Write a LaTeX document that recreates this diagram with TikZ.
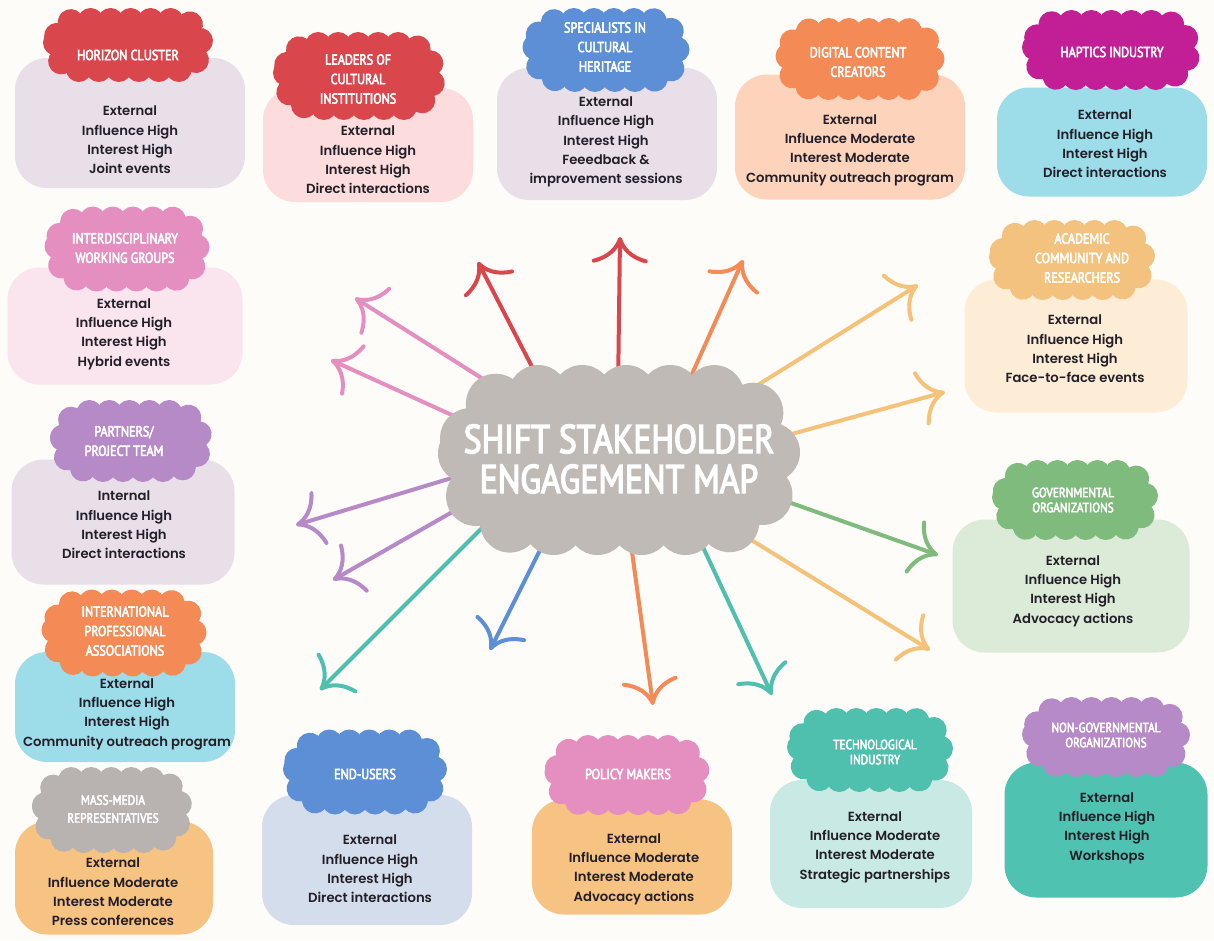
\documentclass[tikz,border=0pt]{standalone}
\usepackage{fontspec}
\usetikzlibrary{arrows.meta,decorations.markings}
\newfontfamily\bodyfont{Poppins SemiBold}
\newfontfamily\hdrfont{PT Sans}[FakeStretch=0.84,FakeBold=3.5]

% palette
\definecolor{paper}{HTML}{FDFCF9}
\definecolor{ink}{HTML}{231F28}
\definecolor{cred}{HTML}{D9474D}
\definecolor{cblue}{HTML}{5D8FD6}
\definecolor{corange}{HTML}{F48A55}
\definecolor{cmagenta}{HTML}{C21F96}
\definecolor{cpink}{HTML}{E58EC0}
\definecolor{capricot}{HTML}{F3C27E}
\definecolor{cpurple}{HTML}{B68AC6}
\definecolor{cgreen}{HTML}{80BB7E}
\definecolor{cteal}{HTML}{4FBFAE}
\definecolor{cgrey}{HTML}{B8B2B0}
\definecolor{hubgrey}{HTML}{C0BAB7}
\definecolor{carrowyel}{HTML}{F5C27A}
% card fills
\definecolor{flilac}{HTML}{E9DFE9}
\definecolor{frose}{HTML}{FCDCDC}
\definecolor{fpeach}{HTML}{FDD3BB}
\definecolor{fsky}{HTML}{9CDDE9}
\definecolor{fblush}{HTML}{FAE4ED}
\definecolor{fcream}{HTML}{FDECD6}
\definecolor{fsage}{HTML}{DCEBD8}
\definecolor{famber}{HTML}{F7C382}
\definecolor{fmist}{HTML}{D4DDEB}
\definecolor{fmint}{HTML}{C9EAE4}
\definecolor{fteal}{HTML}{4FC2B1}

% scalloped cloud: centre x, centre y, width, height, bump radius, bump spacing, colour
\newcommand\puffs[7]{%
  \pgfmathsetmacro\pfR{0.45*(#4-2*#5)}%
  \path[fill=#7, rounded corners=\pfR pt,
    postaction={decorate, decoration={markings,
      mark=between positions 0 and 1 step #6pt with {\fill[#7] (0,0) circle[radius=#5pt];}}}]
    (#1-#3/2+#5,#2-#4/2+#5) rectangle (#1+#3/2-#5,#2+#4/2-#5);
}

\tikzset{
  card/.style={rounded corners=32pt, inner sep=0pt, draw=none},
  hdr/.style={text=white, font=\hdrfont\fontsize{14.5}{19.5}\selectfont, align=center, inner sep=0pt},
  hdrtight/.style={hdr, font=\hdrfont\fontsize{13.5}{15}\selectfont},
  body/.style={text=ink, font=\bodyfont\fontsize{13.2}{19.3}\selectfont, align=center, inner sep=0pt},
  hubtitle/.style={text=white, font=\hdrfont\fontsize{40}{40}\selectfont, align=center, inner sep=0pt},
  arr/.style={line width=4pt, line cap=round,
    -{Computer Modern Rightarrow[length=26pt,width=56pt,line width=4pt]}},
}

\begin{document}
\begin{tikzpicture}[x=1pt,y=-1pt]
\fill[paper] (0,0) rectangle (1214,940);
\useasboundingbox (0,0) rectangle (1214,940);

% ---- radiating arrows (drawn under the central cloud)
\foreach \n/\sx/\sy/\tx/\ty/\c in {
  1/545/392/478/262/cred,
  2/618/392/620/237/cred,
  3/684/392/743/260/corange,
  4/745/393/918/285/carrowyel,
  5/777/438/945/392/carrowyel,
  6/777/498/938/555/cgreen,
  7/740/533/930/650/carrowyel,
  8/695/530/772/695/cteal,
  9/629/530/653/705/corange,
  10/550/530/490/650/cblue,
  11/495/515/320/690/cteal,
  12/475/499/333/580/cpurple,
  13/465/474/296/525/cpurple,
  14/465/421/331/360/cpink,
  15/502/391/355/298/cpink}{
  \coordinate (s\n) at (\sx,\sy);
  \coordinate (t\n) at (\tx,\ty);
  \draw[arr,\c] (s\n) -- (t\n);
}

% ---- central cloud
\puffs{619}{460}{362}{190}{30}{44}{hubgrey}
\node[hubtitle] (hub) at (619,459) {SHIFT STAKEHOLDER\\ENGAGEMENT MAP};

% ---- stakeholder cards
% Horizon cluster
\node[card, fill=flilac, minimum width=230, minimum height=130] (hcCard) at (130,123) {};
\puffs{128}{45}{170}{74}{13}{20}{cred}
\node[hdr] (hcHead) at (128,55) {HORIZON CLUSTER};
\node[body] (hcBody) at (130,140) {External\\Influence High\\Interest High\\Joint events};

% Leaders of cultural institutions
\node[card, fill=frose, minimum width=210, minimum height=114] (lciCard) at (368,145) {};
\puffs{359}{76}{172}{88}{13}{20}{cred}
\node[hdr] (lciHead) at (358,79) {LEADERS OF\\CULTURAL\\INSTITUTIONS};
\node[body] (lciBody) at (368,160) {External\\Influence High\\Interest High\\Direct interactions};

% Specialists in cultural heritage
\node[card, fill=flilac, minimum width=220, minimum height=132] (schCard) at (607,134) {};
\puffs{606}{50}{167}{84}{13}{20}{cblue}
\node[hdr] (schHead) at (605,47) {SPECIALISTS IN\\CULTURAL\\HERITAGE};
\node[body] (schBody) at (606,142) {External\\Influence High\\Interest High\\Feeedback \&\\improvement sessions};

% Digital content creators
\node[card, fill=fpeach, minimum width=230, minimum height=125] (dccCard) at (850,137) {};
\puffs{860}{59}{169}{82}{13}{20}{corange}
\node[hdr] (dccHead) at (858,62) {DIGITAL CONTENT\\CREATORS};
\node[body] (dccBody) at (850,150) {External\\Influence Moderate\\Interest Moderate\\Community outreach program};

% Haptics industry
\node[card, fill=fsky, minimum width=210, minimum height=109] (hiCard) at (1102,142) {};
\puffs{1111}{50}{178}{80}{13}{20}{cmagenta}
\node[hdr] (hiHead) at (1112,52) {HAPTICS INDUSTRY};
\node[body] (hiBody) at (1105,144) {External\\Influence High\\Interest High\\Direct interactions};

% Interdisciplinary working groups
\node[card, fill=fblush, minimum width=235, minimum height=117] (iwgCard) at (125,326) {};
\puffs{127}{249}{165}{85}{13}{20}{cpink}
\node[hdr] (iwgHead) at (125,248) {INTERDISCIPLINARY\\WORKING GROUPS};
\node[body] (iwgBody) at (124,334) {External\\Influence High\\Interest High\\Hybrid events};

% Academic community and researchers
\node[card, fill=fcream, minimum width=223, minimum height=133] (acrCard) at (1076,346) {};
\puffs{1072}{260}{166}{80}{13}{20}{capricot}
\node[hdr] (acrHead) at (1082,258) {ACADEMIC\\COMMUNITY AND\\RESEARCHERS};
\node[body] (acrBody) at (1075,349) {External\\Influence High\\Interest High\\Face-to-face events};

% Partners / project team
\node[card, fill=flilac, minimum width=223, minimum height=125] (pptCard) at (123,522) {};
\puffs{131}{441}{162}{82}{13}{20}{cpurple}
\node[hdr] (pptHead) at (124,441) {PARTNERS/\\PROJECT TEAM};
\node[body] (pptBody) at (124,525) {Internal\\Influence High\\Interest High\\Direct interactions};

% Governmental organizations
\node[card, fill=fsage, minimum width=237, minimum height=133] (goCard) at (1071,586) {};
\puffs{1075}{500}{166}{80}{13}{20}{cgreen}
\node[hdrtight] (goHead) at (1073,500) {GOVERNMENTAL\\ORGANIZATIONS};
\node[body] (goBody) at (1073,591) {External\\Influence High\\Interest High\\Advocacy actions};

% International professional associations
\node[card, fill=fsky, minimum width=220, minimum height=110] (ipaCard) at (125,707) {};
\puffs{124}{633}{165}{87}{13}{20}{corange}
\node[hdr] (ipaHead) at (125,631) {INTERNATIONAL\\PROFESSIONAL\\ASSOCIATIONS};
\node[body] (ipaBody) at (127,714) {External\\Influence High\\Interest High\\Community outreach program};

% Mass-media representatives
\node[card, fill=famber, minimum width=198, minimum height=113] (mmrCard) at (114,878) {};
\puffs{112}{810}{160}{86}{13}{20}{cgrey}
\node[hdrtight, font=\hdrfont\fontsize{13.5}{18}\selectfont] (mmrHead) at (113,809) {MASS-MEDIA\\REPRESENTATIVES};
\node[body] (mmrBody) at (113,892) {External\\Influence Moderate\\Interest Moderate\\Press conferences};

% End-users
\node[card, fill=fmist, minimum width=210, minimum height=130] (euCard) at (367,860) {};
\puffs{365}{772}{164}{85}{13}{20}{cblue}
\node[hdr] (euHead) at (365,774) {END-USERS};
\node[body] (euBody) at (370,869) {External\\Influence High\\Interest High\\Direct interactions};

% Policy makers
\node[card, fill=famber, minimum width=200, minimum height=115] (pmCard) at (632,857) {};
\puffs{627}{775}{165}{80}{13}{20}{cpink}
\node[hdr] (pmHead) at (628,774) {POLICY MAKERS};
\node[body] (pmBody) at (634,869) {External\\Influence Moderate\\Interest Moderate\\Advocacy actions};

% Technological industry
\node[card, fill=fmint, minimum width=202, minimum height=128] (tiCard) at (871,844) {};
\puffs{870}{750}{166}{84}{13}{20}{cteal}
\node[hdrtight] (tiHead) at (875,752) {TECHNOLOGICAL\\INDUSTRY};
\node[body] (tiBody) at (875,847) {External\\Influence Moderate\\Interest Moderate\\Strategic partnerships};

% Non-governmental organizations
\node[card, fill=fteal, minimum width=203, minimum height=135] (ngoCard) at (1106,830) {};
\puffs{1106}{737}{168}{80}{13}{20}{cpurple}
\node[hdrtight] (ngoHead) at (1106,735) {NON-GOVERNMENTAL\\ORGANIZATIONS};
\node[body] (ngoBody) at (1107,828) {External\\Influence High\\Interest High\\Workshops};
\end{tikzpicture}
\end{document}
